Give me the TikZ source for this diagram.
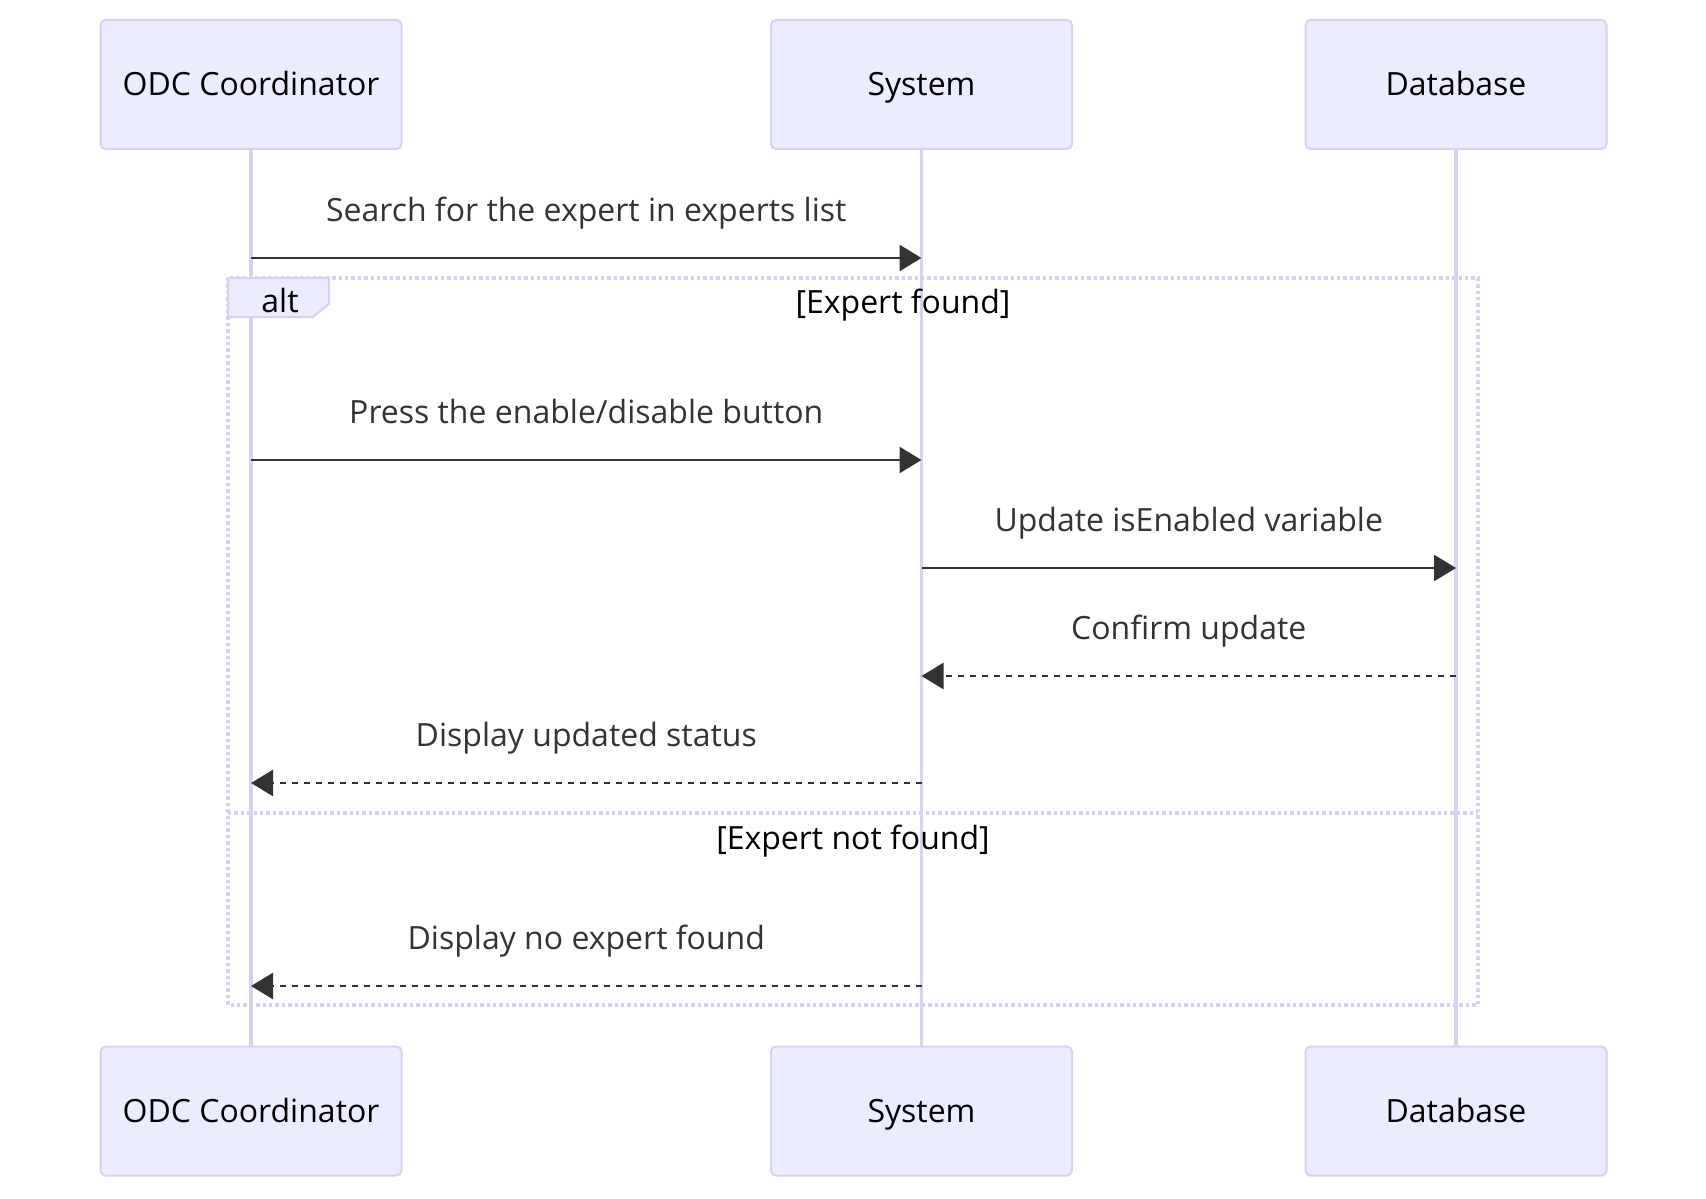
\documentclass[tikz,border=0pt]{standalone}
\usepackage{fontspec}
\setmainfont{Open Sans}
\usetikzlibrary{arrows.meta, positioning}
\definecolor{actfill}{HTML}{ECECFF}
\definecolor{actline}{HTML}{DAD0F4}
\definecolor{msgcol}{HTML}{333333}
\newcommand{\lbl}{\fontsize{16}{19}\selectfont}

\begin{document}
\begin{tikzpicture}[x=0.5pt, y=-0.5pt,
  actor/.style={draw=actline, fill=actfill, line width=1pt, rounded corners=2.5pt,
    minimum width=150.5pt, minimum height=64.5pt, font=\lbl, text=black,
    text height=12.7pt, text depth=1.5pt},
  lifeline/.style={draw=actline, line width=1.6pt},
  msg/.style={draw=msgcol, line width=1.3pt, -{Triangle[length=11pt,width=13pt]}},
  reply/.style={msg, dash pattern=on 3pt off 3pt},
  msglabel/.style={font=\lbl, text=msgcol, text height=11.5pt, text depth=3.5pt, inner sep=0pt},
  altframe/.style={draw=actline, line width=1.7pt, dash pattern=on 1.7pt off 1.5pt},
  altlabel/.style={font=\lbl, text=black, text height=11.5pt, text depth=3.5pt, inner sep=0pt}]
\useasboundingbox (0,0) rectangle (1706,1198);

% participants
\node[actor] (odc) at (251,84.5) {ODC Coordinator};
\node[actor] (sys) at (921.5,84.5) {System};
\node[actor] (db) at (1456,84.5) {Database};
\node[actor] (odcB) at (251,1111) {ODC Coordinator};
\node[actor] (sysB) at (921.5,1111) {System};
\node[actor] (dbB) at (1456,1111) {Database};

\draw[lifeline] (odc.south) -- (odcB.north);
\draw[lifeline] (sys.south) -- (sysB.north);
\draw[lifeline] (db.south) -- (dbB.north);

% message rows
\coordinate (r1) at (0,258);
\coordinate (r2) at (0,460);
\coordinate (r3) at (0,568);
\coordinate (r4) at (0,676);
\coordinate (r5) at (0,783);
\coordinate (r6) at (0,986);

% alt frame
\draw[altframe] (228,278) rectangle (1478,1005);
\draw[altframe] (228,813) -- (1478,813);
\draw[draw=actline, fill=actfill, line width=1pt] (228,278) -- (329,278) -- (329,304) -- (313,317) -- (228,317) -- cycle;
\node[altlabel] (alt) at (280,304) {alt};
\node[altlabel] (found) at (903,305.5) {[Expert found]};
\node[altlabel] (notfound) at (853,841.5) {[Expert not found]};

\draw[msg] (odc |- r1) -- (sys |- r1)
  node[msglabel, midway, yshift=22.5pt] {Search for the expert in experts list};
\draw[msg] (odc |- r2) -- (sys |- r2)
  node[msglabel, midway, yshift=22.5pt] {Press the enable/disable button};
\draw[msg] (sys |- r3) -- (db |- r3)
  node[msglabel, midway, yshift=22.5pt] {Update isEnabled variable};
\draw[reply] (db |- r4) -- (sys |- r4)
  node[msglabel, midway, yshift=22.5pt] {Confirm update};
\draw[reply] (sys |- r5) -- (odc |- r5)
  node[msglabel, midway, yshift=22.5pt] {Display updated status};
\draw[reply] (sys |- r6) -- (odc |- r6)
  node[msglabel, midway, yshift=22.5pt] {Display no expert found};
\end{tikzpicture}
\end{document}
